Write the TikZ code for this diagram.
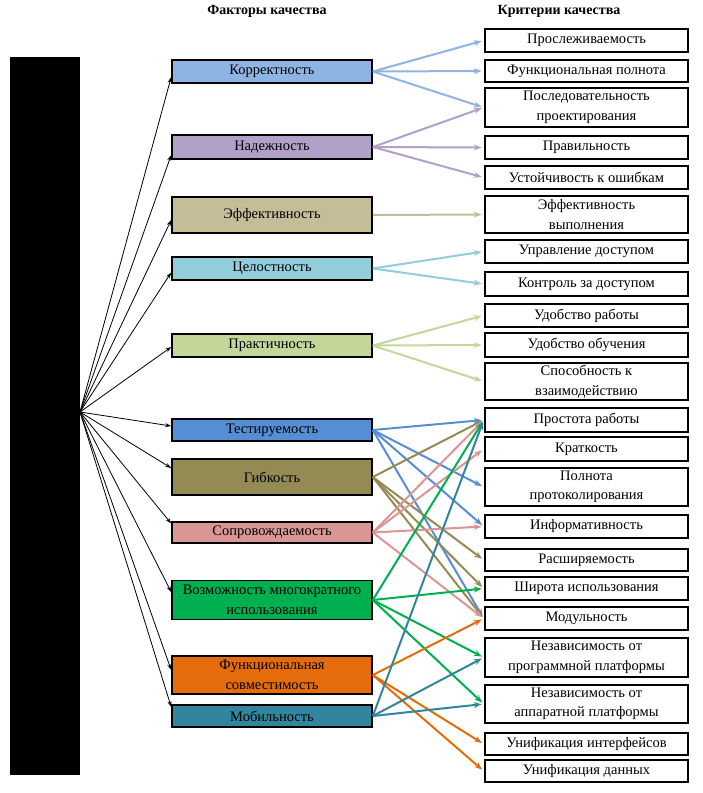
\documentclass[tikz,border=0pt]{standalone}
\usepackage{fontspec}
\setmainfont{Liberation Serif}
\usepackage{tikz}
\usepackage{xcolor}
\usetikzlibrary{arrows.meta, positioning}
\definecolor{cKorr}{HTML}{8DB4E2}
\definecolor{cNadezh}{HTML}{B1A0C7}
\definecolor{cEffekt}{HTML}{C4BD97}
\definecolor{cCelost}{HTML}{92CDDC}
\definecolor{cPrakt}{HTML}{C4D79B}
\definecolor{cTest}{HTML}{558ED5}
\definecolor{cGibk}{HTML}{948A54}
\definecolor{cSoprov}{HTML}{DA9694}
\definecolor{cVozm}{HTML}{00B050}
\definecolor{cSovm}{HTML}{E46C0A}
\definecolor{cMobil}{HTML}{31859C}
\tikzstyle{factor} = [draw=black, line width=1.6pt,
minimum width=200pt, inner sep=0pt,
align=center, font=\fontsize{14.5}{19.5}\selectfont]
\tikzstyle{crit} = [draw=black, line width=2.6pt, fill=white,
minimum width=203pt, inner sep=0pt,
align=center, font=\fontsize{14.5}{19.5}\selectfont]
\tikzstyle{arrow} = [line width=0.8pt,-{Stealth[length=6pt,width=4pt]}]
\tikzstyle{link} = [line width=2pt,-{Stealth[length=8pt,width=6pt]},shorten >=2pt]

\begin{document}
\begin{tikzpicture}[x=1pt, y=-1pt,
        head/.style={font=\fontsize{14}{16}\selectfont\bfseries},
    ]
        \useasboundingbox (0,0) rectangle (702,793);

        % headers
        \node[head] (hfact) at (267,11) {Факторы качества};
        \node[head] (hcrit) at (559,11) {Критерии качества};

        % black bar
        \fill[black] (10,57) rectangle (80,775);
        \coordinate (hub) at (80,412);

        % factors
        \node[factor, fill=cKorr, minimum height=23pt] (korr) at (272,71.5) {Корректность};
        \node[factor, fill=cNadezh, minimum height=24pt] (nadezh) at (272,147) {Надежность};
        \node[factor, fill=cEffekt, minimum height=36pt] (effekt) at (272,215) {Эффективность};
        \node[factor, fill=cCelost, minimum height=23pt] (celost) at (272,268.5) {Целостность};
        \node[factor, fill=cPrakt, minimum height=23pt] (prakt) at (272,345.5) {Практичность};
        \node[factor, fill=cTest, minimum height=22pt] (test) at (272,430) {Тестируемость};
        \node[factor, fill=cGibk, minimum height=36pt] (gibk) at (272,477) {Гибкость};
        \node[factor, fill=cSoprov, minimum height=21pt] (soprov) at (272,532.5) {Сопровождаемость};
        \node[factor, fill=cVozm, minimum height=39pt] (vozm) at (272,600) {Возможность многократного\\использования};
        \node[factor, fill=cSovm, minimum height=38pt] (sovm) at (272,675) {Функциональная\\совместимость};
        \node[factor, fill=cMobil, minimum height=22pt] (mobil) at (272,716) {Мобильность};

        % criteria
        \node[crit, minimum height=23pt] (prosl) at (586.5,40.5) {Прослеживаемость};
        \node[crit, minimum height=22pt] (funcpoln) at (586.5,71) {Функциональная полнота};
        \node[crit, minimum height=39pt] (posled) at (586.5,107.5) {Последовательность\\проектирования};
        \node[crit, minimum height=23pt] (pravil) at (586.5,147.5) {Правильность};
        \node[crit, minimum height=23pt] (ustoich) at (586.5,177.5) {Устойчивость к ошибкам};
        \node[crit, minimum height=37pt] (effvyp) at (586.5,214.5) {Эффективность\\выполнения};
        \node[crit, minimum height=23pt] (upravl) at (586.5,251.5) {Управление доступом};
        \node[crit, minimum height=24pt] (kontrol) at (586.5,284) {Контроль за доступом};
        \node[crit, minimum height=23pt] (udobrab) at (586.5,315.5) {Удобство работы};
        \node[crit, minimum height=24pt] (udobobuch) at (586.5,345) {Удобство обучения};
        \node[crit, minimum height=37pt] (sposob) at (586.5,381.5) {Способность к\\взаимодействию};
        \node[crit, minimum height=24pt] (prostota) at (586.5,420) {Простота работы};
        \node[crit, minimum height=24pt] (kratk) at (586.5,449) {Краткость};
        \node[crit, minimum height=38pt] (polnota) at (586.5,487) {Полнота\\протоколирования};
        \node[crit, minimum height=23pt] (inform) at (586.5,526.5) {Информативность};
        \node[crit, minimum height=22pt] (rasshir) at (586.5,560) {Расширяемость};
        \node[crit, minimum height=23pt] (shirota) at (586.5,588.5) {Широта использования};
        \node[crit, minimum height=23pt] (modul) at (586.5,618.5) {Модульность};
        \node[crit, minimum height=39pt] (nezprog) at (586.5,657.5) {Независимость от\\программной платформы};
        \node[crit, minimum height=38pt] (nezapp) at (586.5,704) {Независимость от\\аппаратной платформы};
        \node[crit, minimum height=22pt] (unifint) at (586.5,744) {Унификация интерфейсов};
        \node[crit, minimum height=22pt] (unifdan) at (586.5,771) {Унификация данных};

        % hub to factors
        \draw[arrow] (hub) -- ([yshift=-5.5pt]korr.west);
        \draw[arrow] (hub) -- ([yshift=-8pt]nadezh.west);
        \draw[arrow] (hub) -- ([yshift=-5pt]effekt.west);
        \draw[arrow] (hub) -- ([yshift=-4pt]celost.west);
        \draw[arrow] (hub) -- ([yshift=-1.5pt]prakt.west);
        \draw[arrow] (hub) -- ([yshift=4pt]test.west);
        \draw[arrow] (hub) -- ([yshift=9pt]gibk.west);
        \draw[arrow] (hub) -- ([yshift=9pt]soprov.west);
        \draw[arrow] (hub) -- ([yshift=8pt]vozm.west);
        \draw[arrow] (hub) -- ([yshift=5pt]sovm.west);
        \draw[arrow] (hub) -- ([yshift=9pt]mobil.west);

        % factors to criteria
        \draw[link, cKorr] (korr.east) -- (prosl.west);
        \draw[link, cKorr] (korr.east) -- (funcpoln.west);
        \draw[link, cKorr] (korr.east) -- (posled.west);

        \draw[link, cNadezh] (nadezh.east) -- (posled.west);
        \draw[link, cNadezh] (nadezh.east) -- (pravil.west);
        \draw[link, cNadezh] (nadezh.east) -- (ustoich.west);

        \draw[link, cEffekt] (effekt.east) -- (effvyp.west);

        \draw[link, cCelost] (celost.east) -- (upravl.west);
        \draw[link, cCelost] (celost.east) -- (kontrol.west);

        \draw[link, cPrakt] (prakt.east) -- (udobrab.west);
        \draw[link, cPrakt] (prakt.east) -- (udobobuch.west);
        \draw[link, cPrakt] (prakt.east) -- (sposob.west);

        \draw[link, cTest] (test.east) -- (prostota.west);
        \draw[link, cTest] (test.east) -- (polnota.west);
        \draw[link, cTest] (test.east) -- (inform.west);
        \draw[link, cTest] (test.east) -- (modul.west);

        \draw[link, cGibk] (gibk.east) -- (prostota.west);
        \draw[link, cGibk] (gibk.east) -- (rasshir.west);
        \draw[link, cGibk] (gibk.east) -- (shirota.west);
        \draw[link, cGibk] (gibk.east) -- (modul.west);

        \draw[link, cSoprov] (soprov.east) -- (prostota.west);
        \draw[link, cSoprov] (soprov.east) -- (kratk.west);
        \draw[link, cSoprov] (soprov.east) -- (inform.west);
        \draw[link, cSoprov] (soprov.east) -- (modul.west);

        \draw[link, cVozm] (vozm.east) -- (prostota.west);
        \draw[link, cVozm] (vozm.east) -- (shirota.west);
        \draw[link, cVozm] (vozm.east) -- (nezprog.west);
        \draw[link, cVozm] (vozm.east) -- (nezapp.west);

        \draw[link, cSovm] (sovm.east) -- (modul.west);
        \draw[link, cSovm] (sovm.east) -- (unifint.west);
        \draw[link, cSovm] (sovm.east) -- (unifdan.west);

        \draw[link, cMobil] (mobil.east) -- (prostota.west);
        \draw[link, cMobil] (mobil.east) -- (nezprog.west);
        \draw[link, cMobil] (mobil.east) -- (nezapp.west);
    \end{tikzpicture}
\end{document}
